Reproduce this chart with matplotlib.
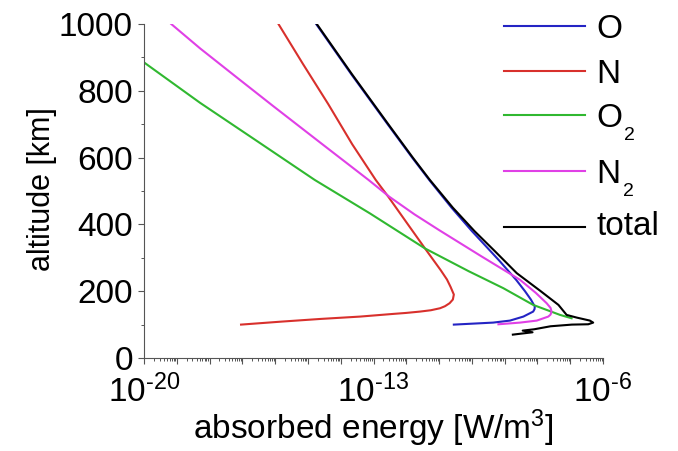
import math
import matplotlib
matplotlib.use("Agg")
import matplotlib.pyplot as plt
from matplotlib.transforms import offset_copy
from matplotlib.ticker import FixedLocator, LogLocator, FuncFormatter, MultipleLocator, NullFormatter

plt.rcParams['font.family'] = ['Liberation Sans', 'DejaVu Sans']
plt.rcParams['mathtext.fontset'] = 'custom'
plt.rcParams['mathtext.rm'] = 'Liberation Sans'
plt.rcParams['mathtext.it'] = 'Liberation Sans:italic'
plt.rcParams['mathtext.bf'] = 'Liberation Sans:bold'

# absorbed energy profiles [W/m^3] vs altitude [km]
alt_O = [1000, 850, 700, 600, 533, 450, 380, 343, 290, 234, 200, 175, 154, 146, 139,
         124, 112, 106, 104, 100]
energy_O = [1.78e-15, 2.09e-14, 2.69e-13, 1.51e-12, 5.01e-12, 2.40e-11, 1.00e-10,
            2.24e-10, 7.08e-10, 2.24e-9, 4.17e-9, 6.31e-9, 8.32e-9, 8.13e-9, 7.41e-9,
            3.72e-9, 1.45e-9, 4.47e-10, 1.78e-10, 2.82e-11]

alt_N = [1000, 880, 760, 640, 533, 483, 400, 328, 290, 263, 235, 213, 190, 175, 164,
         155, 149, 143, 139, 135, 132, 124, 117, 109, 100]
energy_N = [1.26e-16, 7.08e-16, 4.17e-15, 2.24e-14, 1.17e-13, 2.82e-13, 1.12e-12,
            3.72e-12, 7.08e-12, 1.12e-11, 1.74e-11, 2.24e-11, 2.82e-11, 2.63e-11,
            2.09e-11, 1.51e-11, 1.07e-11, 5.62e-12, 2.63e-12, 1.00e-12, 3.98e-13,
            3.89e-14, 2.45e-15, 1.58e-16, 9.12e-18]

alt_O2 = [885, 764, 650, 533, 433, 328, 260, 209, 159, 129, 119]
energy_O2 = [1.0e-20, 5.13e-19, 2.75e-17, 1.62e-15, 7.76e-14, 3.72e-12, 7.94e-11,
             9.12e-10, 7.41e-9, 4.90e-8, 1.10e-7]

alt_N2 = [1000, 927, 840, 755, 640, 533, 483, 430, 383, 305, 234, 195, 164, 150, 139,
          130, 124, 112, 106, 101]
energy_N2 = [6.76e-20, 5.13e-19, 6.76e-18, 8.51e-17, 2.75e-15, 7.08e-14, 3.02e-13,
             1.78e-12, 1.00e-11, 1.91e-10, 2.95e-9, 8.91e-9, 1.91e-8, 2.51e-8, 2.69e-8,
             2.51e-8, 2.14e-8, 9.55e-9, 2.95e-9, 6.46e-10]

alt_total = [1000, 850, 700, 600, 533, 450, 380, 320, 254, 200, 159, 129, 121, 112, 106,
             101, 100, 95, 86, 82, 77, 70]
energy_total = [1.86e-15, 2.19e-14, 2.82e-13, 1.58e-12, 5.25e-12, 2.63e-11, 1.20e-10,
                5.01e-10, 2.34e-9, 1.26e-8, 4.37e-8, 7.76e-8, 1.58e-7, 3.98e-7, 5.01e-7,
                3.55e-7, 1.12e-7, 2.51e-8, 7.94e-9, 3.55e-9, 7.08e-9, 1.78e-9]

# legend text: (main, subscript)
labels = [('O', ''), ('N', ''), ('O', '2'), ('N', '2'), ('total', '')]
colors = ['#2424c4', '#d8302c', '#30b830', '#e040e6', '#000000']
series = [(energy_O, alt_O), (energy_N, alt_N), (energy_O2, alt_O2),
          (energy_N2, alt_N2), (energy_total, alt_total)]

fig = plt.figure(figsize=(6.78, 4.51), dpi=100)
ax = fig.add_axes([0.2124, 0.2062, 0.677, 0.7406])

for (x, y), c in zip(series, colors):
    ax.plot(x, y, color=c, lw=1.5)

ax.set_xscale('log')
ax.set_xlim(1e-20, 1e-6)
ax.set_ylim(0, 1000)

# decade ticks everywhere, labels only every 7 decades
ax.xaxis.set_major_locator(FixedLocator([10.0 ** k for k in range(-20, -5)]))
ax.xaxis.set_minor_locator(LogLocator(base=10, subs=range(2, 10), numticks=100))
ax.xaxis.set_minor_formatter(NullFormatter())

def decade_label(v, pos):
    k = int(round(math.log10(v)))
    if k in (-20, -13, -6):
        return r'$\mathregular{10^{‐%d}}$' % (-k)
    return ''

ax.xaxis.set_major_formatter(FuncFormatter(decade_label))
ax.yaxis.set_major_locator(MultipleLocator(200))
ax.yaxis.set_minor_locator(MultipleLocator(100))

for side in ['top', 'right']:
    ax.spines[side].set_visible(False)
for side in ['left', 'bottom']:
    ax.spines[side].set_color('#555555')
    ax.spines[side].set_linewidth(0.8)

ax.tick_params(axis='both', which='major', direction='out', length=4, width=0.8,
               color='#555555', labelsize=24)
ax.tick_params(axis='both', which='minor', direction='out', length=2.5, width=0.7,
               color='#555555')
ax.tick_params(axis='y', which='major', pad=4)
ax.tick_params(axis='x', which='major', pad=8)

ax.set_xlabel('absorbed energy [W/m$^3$]', fontsize=24, labelpad=-1)
ax.set_ylabel('altitude [km]', fontsize=22)
ax.yaxis.set_label_coords(-0.19, 0.505)

# hand-placed legend, subscripts dropped below the baseline
row_y = [0.994, 0.860, 0.728, 0.561, 0.393]
base_off = [0.036, 0.036, 0.036, 0.036, 0.025]
for (main, sub), c, ry, off in zip(labels, colors, row_y, base_off):
    ax.plot([0.784, 0.961], [ry, ry], transform=ax.transAxes, color=c, lw=1.5,
            clip_on=False)
    t = ax.text(0.985, ry - off, main, transform=ax.transAxes, fontsize=24,
                ha='left', va='baseline', clip_on=False)
    if sub:
        w = 18.5 if main == 'O' else 17.5
        tr = offset_copy(ax.transAxes, fig=fig, x=w + 1.5, y=-9.5, units='points')
        ax.text(0.985, ry - off, sub, transform=tr, fontsize=14,
                ha='left', va='baseline', clip_on=False)

fig.savefig('out.png', dpi=100)
